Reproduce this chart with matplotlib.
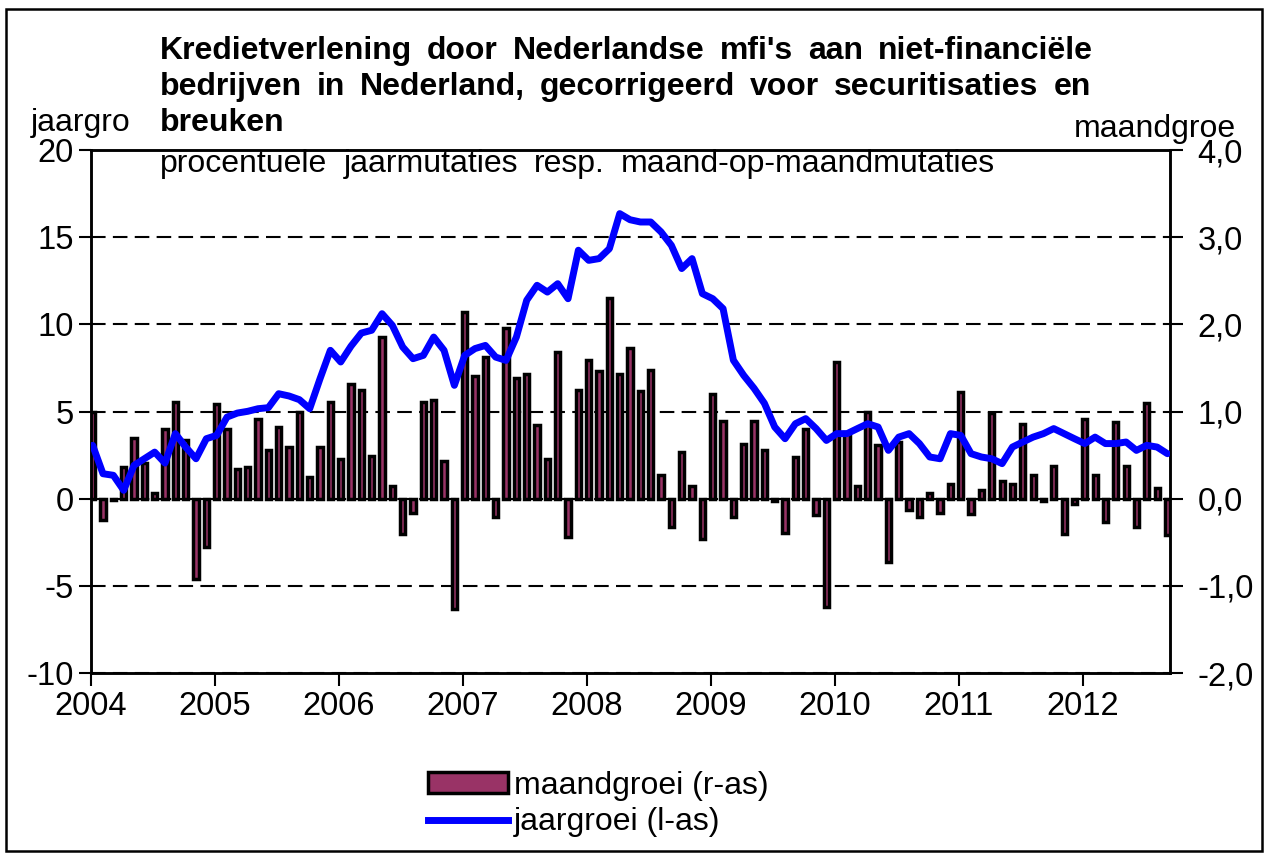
import matplotlib
matplotlib.use('Agg')
import matplotlib.pyplot as plt
from matplotlib.patches import Rectangle, Patch
from matplotlib.lines import Line2D
import numpy as np

plt.rcParams['font.family'] = ['Liberation Sans', 'DejaVu Sans']

# ---------------- data ----------------
year_labels = ['2004', '2005', '2006', '2007', '2008', '2009', '2010', '2011', '2012']

# monthly growth (right axis), Jan 2004 - Sep 2012
maandgroei = [
    0.99, -0.25, -0.02, 0.36, 0.70, 0.41, 0.06, 0.80, 1.11, 0.67, -0.92, -0.55,   # 2004
    1.09, 0.80, 0.34, 0.36, 0.91, 0.56, 0.82, 0.59, 1.00, 0.25, 0.59, 1.11,       # 2005
    0.45, 1.32, 1.25, 0.49, 1.86, 0.15, -0.40, -0.17, 1.11, 1.13, 0.43, -1.27,    # 2006
    2.14, 1.41, 1.62, -0.21, 1.96, 1.39, 1.43, 0.84, 0.45, 1.68, -0.44, 1.25,     # 2007
    1.59, 1.46, 2.30, 1.43, 1.73, 1.24, 1.48, 0.27, -0.33, 0.54, 0.15, -0.46,     # 2008
    1.20, 0.89, -0.21, 0.63, 0.89, 0.56, -0.03, -0.39, 0.48, 0.80, -0.19, -1.24,  # 2009
    1.57, 0.76, 0.15, 0.99, 0.61, -0.73, 0.65, -0.13, -0.21, 0.06, -0.16, 0.17,   # 2010
    1.22, -0.18, 0.10, 0.98, 0.20, 0.17, 0.86, 0.27, -0.03, 0.38, -0.41, -0.06,   # 2011
    0.91, 0.27, -0.27, 0.88, 0.38, -0.32, 1.10, 0.12, -0.42,                      # 2012
]

# yearly growth (left axis), Jan 2004 - Sep 2012
jaargroei = [
    3.06, 1.43, 1.34, 0.48, 1.91, 2.29, 2.67, 2.04, 3.73, 2.96, 2.29, 3.44,       # 2004
    3.63, 4.68, 4.91, 5.01, 5.16, 5.22, 6.02, 5.89, 5.68, 5.16, 6.88, 8.51,       # 2005
    7.84, 8.75, 9.50, 9.66, 10.61, 9.94, 8.70, 8.03, 8.22, 9.27, 8.51, 6.50,      # 2006
    8.22, 8.61, 8.79, 8.12, 7.93, 9.27, 11.38, 12.24, 11.85, 12.33, 11.47, 14.25, # 2007
    13.67, 13.77, 14.34, 16.35, 16.00, 15.87, 15.87, 15.30, 14.53, 13.20, 13.77, 11.76,  # 2008
    11.47, 10.90, 7.94, 7.07, 6.33, 5.47, 4.11, 3.44, 4.30, 4.59, 4.02, 3.34,     # 2009
    3.73, 3.73, 4.02, 4.30, 4.11, 2.77, 3.53, 3.73, 3.16, 2.39, 2.29, 3.73,       # 2010
    3.63, 2.58, 2.39, 2.29, 2.01, 2.96, 3.25, 3.53, 3.73, 4.02, 3.73, 3.44,       # 2011
    3.16, 3.53, 3.16, 3.16, 3.25, 2.77, 3.06, 2.96, 2.58,                         # 2012
]

left_ticks = [-10, -5, 0, 5, 10, 15, 20]
right_ticks = [-2.0, -1.0, 0.0, 1.0, 2.0, 3.0, 4.0]
right_ticklabels = ['-2,0', '-1,0', '0,0', '1,0', '2,0', '3,0', '4,0']

title_lines = [
    "Kredietverlening door Nederlandse mfi's aan niet-financiële",
    "bedrijven in Nederland, gecorrigeerd voor securitisaties en",
    "breuken",
]
subtitle = "procentuele jaarmutaties resp. maand-op-maandmutaties"
legend_labels = ['maandgroei (r-as)', 'jaargroei (l-as)']

# ---------------- layout ----------------
W, H = 1272, 864
fig = plt.figure(figsize=(W / 100, H / 100), dpi=100)
fig.patch.set_facecolor('white')
renderer = fig.canvas.get_renderer()

def fx(px):
    return px / W

def fy(py):
    return 1 - py / H

BAR_COLOR = '#993366'
LINE_COLOR = '#0000FF'
FS = 23
TICK_FS = 23.5


def justified_text(line, x0, x1, y, justify=True, **kw):
    """Place the words of a line so they span x0..x1 (pixels)."""
    words = line.split(' ')
    arts = [fig.text(fx(x0), fy(y), w, va='baseline', ha='left', **kw) for w in words]
    widths = [a.get_window_extent(renderer).width for a in arts]
    if justify and len(words) > 1:
        gap = (x1 - x0 - sum(widths)) / (len(words) - 1)
    else:
        sp = fig.text(0, 0, 'a a', **kw)
        sp2 = fig.text(0, 0, 'aa', **kw)
        gap = sp.get_window_extent(renderer).width - sp2.get_window_extent(renderer).width
        sp.remove()
        sp2.remove()
    xpos = x0
    for a, wd in zip(arts, widths):
        a.set_x(fx(xpos))
        xpos += wd + gap


ax = fig.add_axes([fx(90.6), fy(673), fx(1169.5) - fx(90.6), fy(150) - fy(673)])
ax2 = ax.twinx()

x = np.arange(len(maandgroei))

# bars on right axis
ax2.bar(x, maandgroei, width=0.5, color=BAR_COLOR, edgecolor='black', linewidth=2.5, zorder=2)
ax2.set_ylim(-2, 4)
ax2.set_yticks(right_ticks)
ax2.set_yticklabels(right_ticklabels)
ax2.set_axisbelow(True)
ax2.grid(axis='y', color='black', linewidth=1.5, linestyle=(0, (7, 3.5)), zorder=0)

# line on left axis, drawn on top
ax.plot(x, jaargroei, color=LINE_COLOR, linewidth=5, solid_joinstyle='round',
        solid_capstyle='round', zorder=3)
ax.set_zorder(ax2.get_zorder() + 1)
ax.patch.set_visible(False)
ax.set_ylim(-10, 20)
ax.set_yticks(left_ticks)
ax.set_yticklabels([str(v) for v in left_ticks])
ax.set_xlim(-0.2, 104.2)
ax.set_xticks([12 * k - 0.2 for k in range(len(year_labels))])
ax.set_xticklabels(year_labels)

for a in (ax, ax2):
    for s in a.spines.values():
        s.set_linewidth(1.8)
        s.set_color('black')

ax.tick_params(axis='x', direction='out', length=9, width=1.5, labelsize=TICK_FS, pad=4)
ax.tick_params(axis='y', direction='out', length=9, width=1.5, labelsize=TICK_FS, pad=3)
ax2.tick_params(axis='y', direction='out', length=9, width=1.5, labelsize=TICK_FS, pad=11)

# titles / axis captions
justified_text(title_lines[0], 160, 1093, 59, justify=True, fontsize=23, fontweight='bold')
justified_text(title_lines[1], 160, 1091, 95, justify=True, fontsize=23, fontweight='bold')
justified_text(title_lines[2], 160, 1091, 131, justify=False, fontsize=23, fontweight='bold')
justified_text(subtitle, 160, 995, 172, justify=True, fontsize=23)
fig.text(fx(31), fy(131), 'jaargro', fontsize=FS, va='baseline', ha='left')
fig.text(fx(1074), fy(137), 'maandgroe', fontsize=FS, va='baseline', ha='left')

# legend
handles = [Patch(facecolor=BAR_COLOR, edgecolor='black', linewidth=2.5),
           Line2D([], [], color=LINE_COLOR, linewidth=5)]
fig.legend(handles, legend_labels, loc='upper left', bbox_to_anchor=(fx(428), fy(771)),
           frameon=False, fontsize=FS, handlelength=2.5, handleheight=0.62,
           handletextpad=0.2, labelspacing=0.2, borderpad=0, borderaxespad=0)

# outer border
fig.add_artist(Rectangle((fx(6), fy(851)), fx(1262) - fx(6), fy(9) - fy(851),
                         transform=fig.transFigure, fill=False, edgecolor='black',
                         linewidth=1.8))

fig.savefig('out.png', dpi=100)
